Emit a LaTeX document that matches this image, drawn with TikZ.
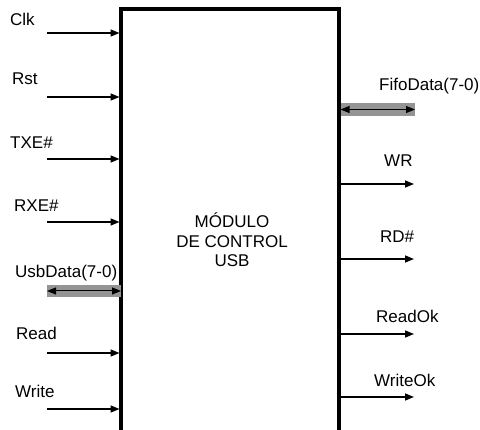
\documentclass[tikz,border=0pt]{standalone}
\usepackage{fontspec}
\setmainfont{Liberation Sans}
\usetikzlibrary{arrows.meta}

\begin{document}
\begin{tikzpicture}[x=1pt,y=-1pt,>={Triangle[length=9pt,width=7pt]},
    sig/.style={->,line width=1.5pt},
    bus/.style={<->,line width=1pt},
    busband/.style={fill=black!42,draw=none},
    lbl/.style={anchor=base west,inner sep=0pt,font=\fontsize{17}{20}\selectfont}]
  \useasboundingbox (0,0) rectangle (480,430);
  % bloque (abierto por abajo)
  \coordinate (bl) at (121,440);
  \coordinate (tl) at (121,9);
  \coordinate (tr) at (339,9);
  \coordinate (br) at (339,440);
  \draw[line width=3.2pt] (bl) -- (tl) -- (tr) -- (br);
  \coordinate (inedge) at (119.5,0);
  \coordinate (outedge) at (340.5,0);
  \node[align=center,inner sep=0pt,font=\fontsize{17}{19.5}\selectfont] (modulo) at (232,240)
    {MÓDULO\\DE CONTROL\\USB};
  % entradas
  \node[lbl] (clk) at (10,26) {Clk};
  \node[lbl] (rst) at (12,85) {Rst};
  \node[lbl] (txe) at (10,149) {TXE\#};
  \node[lbl] (rxe) at (14,212) {RXE\#};
  \node[lbl] (usbdata) at (15,278) {UsbData(7-0)};
  \node[lbl] (read) at (16,340) {Read};
  \node[lbl] (write) at (15,398) {Write};
  \coordinate (clk-in) at (47,33);
  \coordinate (rst-in) at (47,97);
  \coordinate (txe-in) at (47,159);
  \coordinate (rxe-in) at (47,222);
  \coordinate (read-in) at (47,353);
  \coordinate (write-in) at (47,409);
  \draw[sig] (clk-in) -- (clk-in -| inedge);
  \draw[sig] (rst-in) -- (rst-in -| inedge);
  \draw[sig] (txe-in) -- (txe-in -| inedge);
  \draw[sig] (rxe-in) -- (rxe-in -| inedge);
  \draw[sig] (read-in) -- (read-in -| inedge);
  \draw[sig] (write-in) -- (write-in -| inedge);
  % bus usb
  \coordinate (usb-in) at (47,291);
  \fill[busband] (47,285) rectangle (121,297);
  \draw[bus] (usb-in) -- (usb-in -| tl);
  % salidas
  \node[lbl] (fifodata) at (379,91) {FifoData(7-0)};
  \node[lbl] (wr) at (384,167) {WR};
  \node[lbl] (rd) at (380,243) {RD\#};
  \node[lbl] (readok) at (376,323) {ReadOk};
  \node[lbl] (writeok) at (374,387) {WriteOk};
  \coordinate (wr-out) at (414,184);
  \coordinate (rd-out) at (414,259);
  \coordinate (readok-out) at (414,334);
  \coordinate (writeok-out) at (414,397);
  \draw[sig] (wr-out -| outedge) -- (wr-out);
  \draw[sig] (rd-out -| outedge) -- (rd-out);
  \draw[sig] (readok-out -| outedge) -- (readok-out);
  \draw[sig] (writeok-out -| outedge) -- (writeok-out);
  % bus fifo
  \coordinate (fifo-out) at (415,109.5);
  \fill[busband] (341,103) rectangle (415,116);
  \draw[bus] (fifo-out -| outedge) -- (fifo-out);
\end{tikzpicture}
\end{document}
